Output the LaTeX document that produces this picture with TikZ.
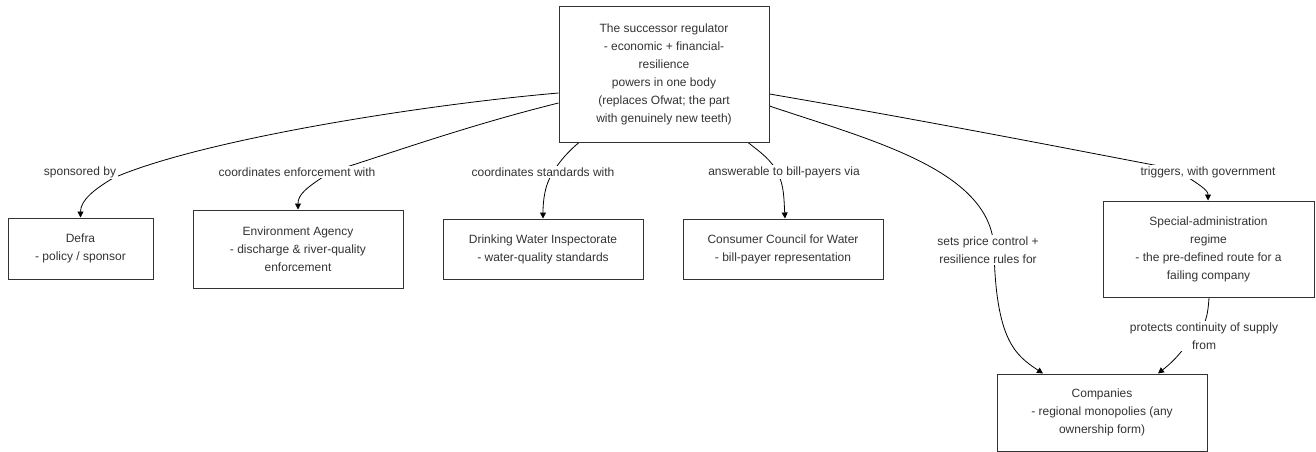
\documentclass[tikz,border=0pt]{standalone}
\usepackage{fontspec}
\setmainfont{Liberation Sans}
\usetikzlibrary{arrows.meta,backgrounds}
\definecolor{txt}{HTML}{333333}
\definecolor{bord}{HTML}{333333}
\tikzset{
  box/.style={draw=bord, line width=1pt, fill=white, text=txt, align=center,
    font=\fontsize{12}{18}\selectfont, inner sep=0pt},
  lab/.style={fill=white, text=txt, align=center, inner sep=1.5pt,
    font=\fontsize{12}{18}\selectfont},
  conn/.style={draw=black, line width=0.8pt},
  arr/.style={conn, -{Triangle[length=6pt,width=6pt]}}
}
\begin{document}
\begin{tikzpicture}[x=1pt,y=-1pt]
\useasboundingbox (0,0) rectangle (1316,452);
% boxes
\node[box, minimum width=210pt, minimum height=135pt] (top) at (664,74.5)
  {The successor regulator\\ - economic + financial-\\resilience\\powers in one body\\(replaces Ofwat; the part\\with genuinely new teeth)};
\node[box, minimum width=145pt, minimum height=61pt] (defra) at (80.5,248.5)
  {Defra\\ - policy / sponsor};
\node[box, minimum width=210pt, minimum height=78pt] (ea) at (298,249)
  {Environment Agency\\ - discharge \& river-quality\\enforcement};
\node[box, minimum width=200pt, minimum height=60pt] (dwi) at (543,249)
  {Drinking Water Inspectorate\\ - water-quality standards};
\node[box, minimum width=200pt, minimum height=60pt] (ccw) at (783,249)
  {Consumer Council for Water\\ - bill-payer representation};
\node[box, minimum width=211pt, minimum height=96pt] (sar) at (1208.5,249)
  {Special-administration\\regime\\ - the pre-defined route for a\\failing company};
\node[box, minimum width=210pt, minimum height=77pt] (comp) at (1102,412.5)
  {Companies\\ - regional monopolies (any\\ownership form)};
% labels
\node[lab] (l1) at (80,172) {sponsored by};
\node[lab] (l2) at (297,172) {coordinates enforcement with};
\node[lab] (l3) at (543,172) {coordinates standards with};
\node[lab] (l4) at (784,172) {answerable to bill-payers via};
\node[lab] (l5) at (988,250) {sets price control +\\resilience rules for};
\node[lab] (l6) at (1208,172) {triggers, with government};
\node[lab] (l7) at (1204,336) {protects continuity of supply\\from};
% connectors
\begin{pgfonlayer}{background}
\draw[arr] ([yshift=-18.5pt]top.west) .. controls (420,105) and (200,140) .. ([xshift=-5pt,yshift=1pt]l1.south east)
  .. controls (95,189) and (80.5,200) .. (defra.north);
\draw[arr] ([yshift=-28.5pt]top.west) .. controls (470,125) and (400,150) .. ([xshift=34pt]l2.center)
  .. controls (305,188) and (298,195) .. (ea.north);
\draw[arr] ([xshift=-85pt]top.south) .. controls (570,150) and (560,160) .. ([xshift=9pt,yshift=-2pt]l3.center)
  .. controls (545,185) and (543,200) .. (dwi.north);
\draw[arr] ([xshift=84pt]top.south) .. controls (760,152) and (772,160) .. ([xshift=-6pt,yshift=-2pt]l4.center)
  .. controls (784,185) and (784,200) .. ([xshift=2pt]ccw.north);
\draw[arr] ([yshift=-31.5pt]top.east) .. controls (870,140) and (993,170) .. ([xshift=6pt]l5.center)
  .. controls (996,340) and (1015,355) .. ([xshift=-59pt]comp.north);
\draw[arr] ([yshift=-19.5pt]top.east) .. controls (950,125) and (1100,155) .. ([xshift=-33pt,yshift=3pt]l6.center)
  .. controls (1200,185) and (1208,190) .. ([xshift=-0.5pt]sar.north);
\draw[arr] ([xshift=0.5pt]sar.south) .. controls (1208,315) and (1205,330) .. ([xshift=-9pt,yshift=4pt]l7.center)
  .. controls (1180,356) and (1170,364) .. ([xshift=56pt]comp.north);
\end{pgfonlayer}
\end{tikzpicture}
\end{document}
